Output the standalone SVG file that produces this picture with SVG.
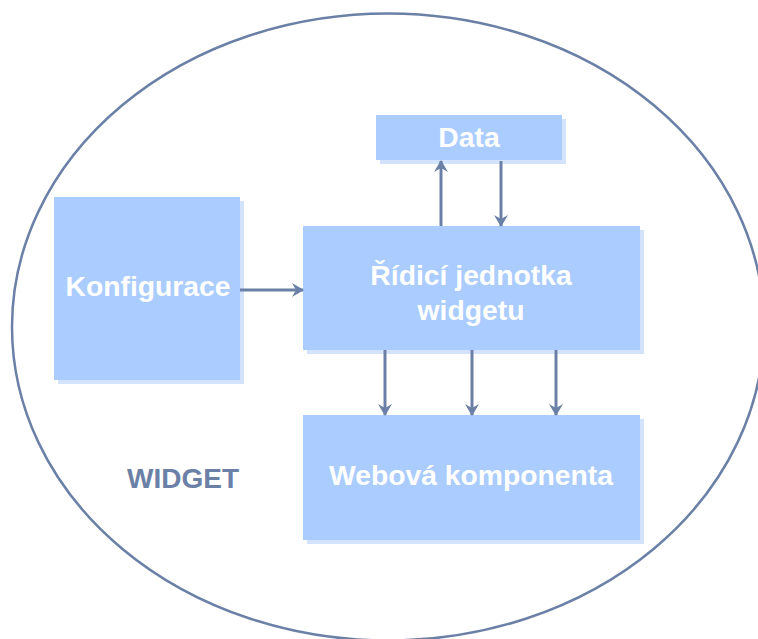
<svg xmlns="http://www.w3.org/2000/svg" width="758" height="639" viewBox="0 0 758 639">
<style>
.box{fill:#aaccff}
.sh{fill:#d4e3fc}
.t{font-family:"Liberation Sans",Arial,sans-serif;font-weight:bold;font-size:28.3px;fill:#ffffff;text-anchor:middle}
.lbl{font-family:"Liberation Sans",Arial,sans-serif;font-weight:bold;font-size:28px;fill:#6b80a6;text-anchor:middle}
.c{stroke:#6b80a6;stroke-width:3;fill:none;marker-end:url(#ah)}
</style>
<defs>
<marker id="ah" viewBox="0 0 12 14" refX="11" refY="7" markerWidth="12" markerHeight="14" markerUnits="userSpaceOnUse" orient="auto">
<path d="M0,0 L12,7 L0,14 L4,7 Z" fill="#6b80a6"/>
</marker>
</defs>
<rect width="758" height="639" fill="#ffffff"/>
<g id="widget">
<ellipse cx="388" cy="327" rx="376" ry="313.5" fill="none" stroke="#6b80a6" stroke-width="2.5"/>
<text class="lbl" x="183" y="488">WIDGET</text>
</g>
<g id="data">
<rect class="sh" x="380" y="119" width="186" height="45"/>
<rect class="box" x="376" y="115" width="186" height="45"/>
<text class="t" x="469" y="147">Data</text>
</g>
<g id="konfigurace">
<rect class="sh" x="58" y="201" width="186" height="183"/>
<rect class="box" x="54" y="197" width="186" height="183"/>
<text class="t" x="148" y="296">Konfigurace</text>
</g>
<g id="ridici">
<rect class="sh" x="307" y="230" width="337" height="124"/>
<rect class="box" x="303" y="226" width="337" height="124"/>
<text class="t" x="471" y="285">Řídicí jednotka</text>
<text class="t" x="471" y="320">widgetu</text>
</g>
<g id="webova">
<rect class="sh" x="307" y="419" width="337" height="125"/>
<rect class="box" x="303" y="415" width="337" height="125"/>
<text class="t" x="471" y="485">Webová komponenta</text>
</g>
<g id="connectors">
<path class="c" d="M240,290 L303,290"/>
<path class="c" d="M441,226 L441,161"/>
<path class="c" d="M501,161 L501,226"/>
<path class="c" d="M385,350 L385,415"/>
<path class="c" d="M472,350 L472,415"/>
<path class="c" d="M556,350 L556,415"/>
</g>
</svg>
